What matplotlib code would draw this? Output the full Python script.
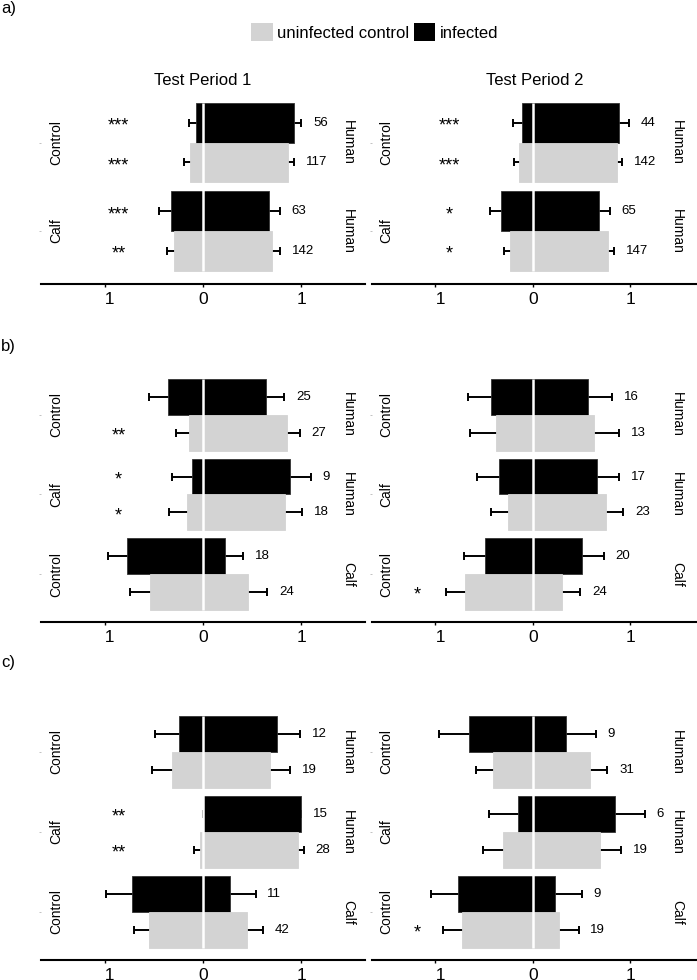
import numpy as np
import matplotlib.pyplot as plt
from matplotlib.patches import Patch

plt.rcParams['font.family'] = ['Liberation Sans', 'DejaVu Sans']

# ---- data: proportion choosing (right end of bar), error, n, significance
# each nested list is [test period 1, test period 2]

# row a)
a_groups = ['Control', 'Calf']
a_targets = ['Human', 'Human']
a_inf_prop = [[0.932, 0.670], [0.888, 0.675]]
a_inf_err = [[0.070, 0.115], [0.095, 0.115]]
a_inf_n = [[56, 63], [44, 65]]
a_inf_sig = [['***', '***'], ['***', '*']]
a_ctl_prop = [[0.868, 0.707], [0.860, 0.767]]
a_ctl_err = [[0.062, 0.076], [0.054, 0.067]]
a_ctl_n = [[117, 142], [142, 147]]
a_ctl_sig = [['***', '**'], ['***', '*']]

# row b)
b_groups = ['Control', 'Calf', 'Control']
b_targets = ['Human', 'Human', 'Calf']
b_inf_prop = [[0.640, 0.890, 0.222], [0.570, 0.655, 0.508]]
b_inf_err = [[0.188, 0.210, 0.190], [0.240, 0.228, 0.218]]
b_inf_n = [[25, 9, 18], [16, 17, 20]]
b_inf_sig = [['', '*', ''], ['', '', '']]
b_ctl_prop = [[0.855, 0.833, 0.457], [0.623, 0.748, 0.300]]
b_ctl_err = [[0.135, 0.175, 0.197], [0.265, 0.180, 0.187]]
b_ctl_n = [[27, 18, 24], [13, 23, 24]]
b_ctl_sig = [['**', '*', ''], ['', '', '*']]

# row c)
c_groups = ['Control', 'Calf', 'Control']
c_targets = ['Human', 'Human', 'Calf']
c_inf_prop = [[0.750, 1.000, 0.273], [0.340, 0.845, 0.228]]
c_inf_err = [[0.242, 0.005, 0.263], [0.308, 0.300, 0.272]]
c_inf_n = [[12, 15, 11], [9, 6, 9]]
c_inf_sig = [['', '**', ''], ['', '', '']]
c_ctl_prop = [[0.684, 0.967, 0.454], [0.590, 0.693, 0.272]]
c_ctl_err = [[0.208, 0.063, 0.154], [0.175, 0.209, 0.198]]
c_ctl_n = [[19, 28, 42], [31, 19, 19]]
c_ctl_sig = [['', '**', ''], ['', '', '*']]

periods = ['Test Period 1', 'Test Period 2']
col_inf = 'black'
col_ctl = '#d3d3d3'

W, H = 697, 980
fig = plt.figure(figsize=(W / 100, H / 100), dpi=100)


def px_axes(left, top, right, bottom):
    return fig.add_axes([left / W, 1 - bottom / H, (right - left) / W, (bottom - top) / H])


def draw_panel(ax, groups, targets, inf, ctl, xlim):
    k = len(groups)
    y = np.arange(k)
    for off, (props, errs, ns, sigs), color in [(-0.225, inf, col_inf), (0.225, ctl, col_ctl)]:
        yy = y + off
        props = np.array(props)
        errs = np.array(errs)
        lefts = props - 1
        kw = dict(fmt='none', ecolor='black', elinewidth=1.4, capsize=3, capthick=1.4, zorder=1)
        ax.errorbar(props, yy, xerr=errs, **kw)
        ax.errorbar(lefts, yy, xerr=errs, **kw)
        ax.barh(yy, np.ones(k), left=lefts, height=0.45, color=color,
                edgecolor='#333333' if color == col_inf else color, linewidth=0.6, zorder=1.5)
        for i in range(k):
            ax.text(props[i] + errs[i] + 0.12, yy[i], str(ns[i]), ha='left', va='center', fontsize=9.5)
            if sigs[i]:
                sx = -1.19 if lefts[i] - errs[i] < -0.8 else -0.86
                ax.text(sx, yy[i] + 0.04, sigs[i], ha='center', va='center', fontsize=13)
    ax.vlines(0, -0.45, k - 1 + 0.45, color='white', lw=1.8, zorder=2)
    for i in range(k):
        ax.text(-1.5, i, groups[i], rotation=90, ha='center', va='center', fontsize=10)
        ax.text(1.48, i, targets[i], rotation=-90, ha='center', va='center', fontsize=10)
    ax.set_xlim(*xlim)
    ax.set_ylim(k - 1 + 0.6, -0.6)
    for s in ['top', 'left', 'right']:
        ax.spines[s].set_visible(False)
    ax.spines['bottom'].set_linewidth(1.5)
    ax.set_xticks([-1, 0, 1])
    ax.set_xticklabels(['  1', '0', '1'], fontsize=12.5)
    ax.tick_params(axis='x', length=2, width=1, pad=4)
    ax.set_yticks(y)
    ax.set_yticklabels([])
    ax.tick_params(axis='y', length=1.5, width=0.5, color='#aaaaaa')
    ax.set_facecolor('white')


rows = [
    (a_groups, a_targets, a_inf_prop, a_inf_err, a_inf_n, a_inf_sig, a_ctl_prop, a_ctl_err, a_ctl_n, a_ctl_sig),
    (b_groups, b_targets, b_inf_prop, b_inf_err, b_inf_n, b_inf_sig, b_ctl_prop, b_ctl_err, b_ctl_n, b_ctl_sig),
    (c_groups, c_targets, c_inf_prop, c_inf_err, c_inf_n, c_inf_sig, c_ctl_prop, c_ctl_err, c_ctl_n, c_ctl_sig),
]
row_top = [89.6, 367, 704]
row_bot = [284, 622, 960]
cols = [(41.3, 364.7, (-1.65, 1.65)), (372, 697, (-1.65, 1.683))]
row_letters = ['a)', 'b)', 'c)']
letter_y = [9, 346, 663]

for r, row in enumerate(rows):
    groups, targets, ip, ie, inn, isg, cp, ce, cn, csg = row
    for c in range(2):
        left, right, xlim = cols[c]
        ax = px_axes(left, row_top[r], right, row_bot[r])
        draw_panel(ax, groups, targets,
                   (ip[c], ie[c], inn[c], isg[c]),
                   (cp[c], ce[c], cn[c], csg[c]), xlim)
        if r == 0:
            ax.set_title(periods[c], fontsize=12, pad=3)
    fig.text(1 / W, 1 - letter_y[r] / H, row_letters[r], fontsize=12, ha='left', va='center')

fig.legend(handles=[Patch(facecolor=col_ctl, label='uninfected control'),
                    Patch(facecolor=col_inf, label='infected')],
           loc='center', bbox_to_anchor=(374.5 / W, 1 - 32 / H), ncol=2, frameon=False,
           fontsize=12, handlelength=1.3, handleheight=1.3, handletextpad=0.25,
           columnspacing=0.3, borderpad=0)

fig.savefig('out.png', dpi=100)
